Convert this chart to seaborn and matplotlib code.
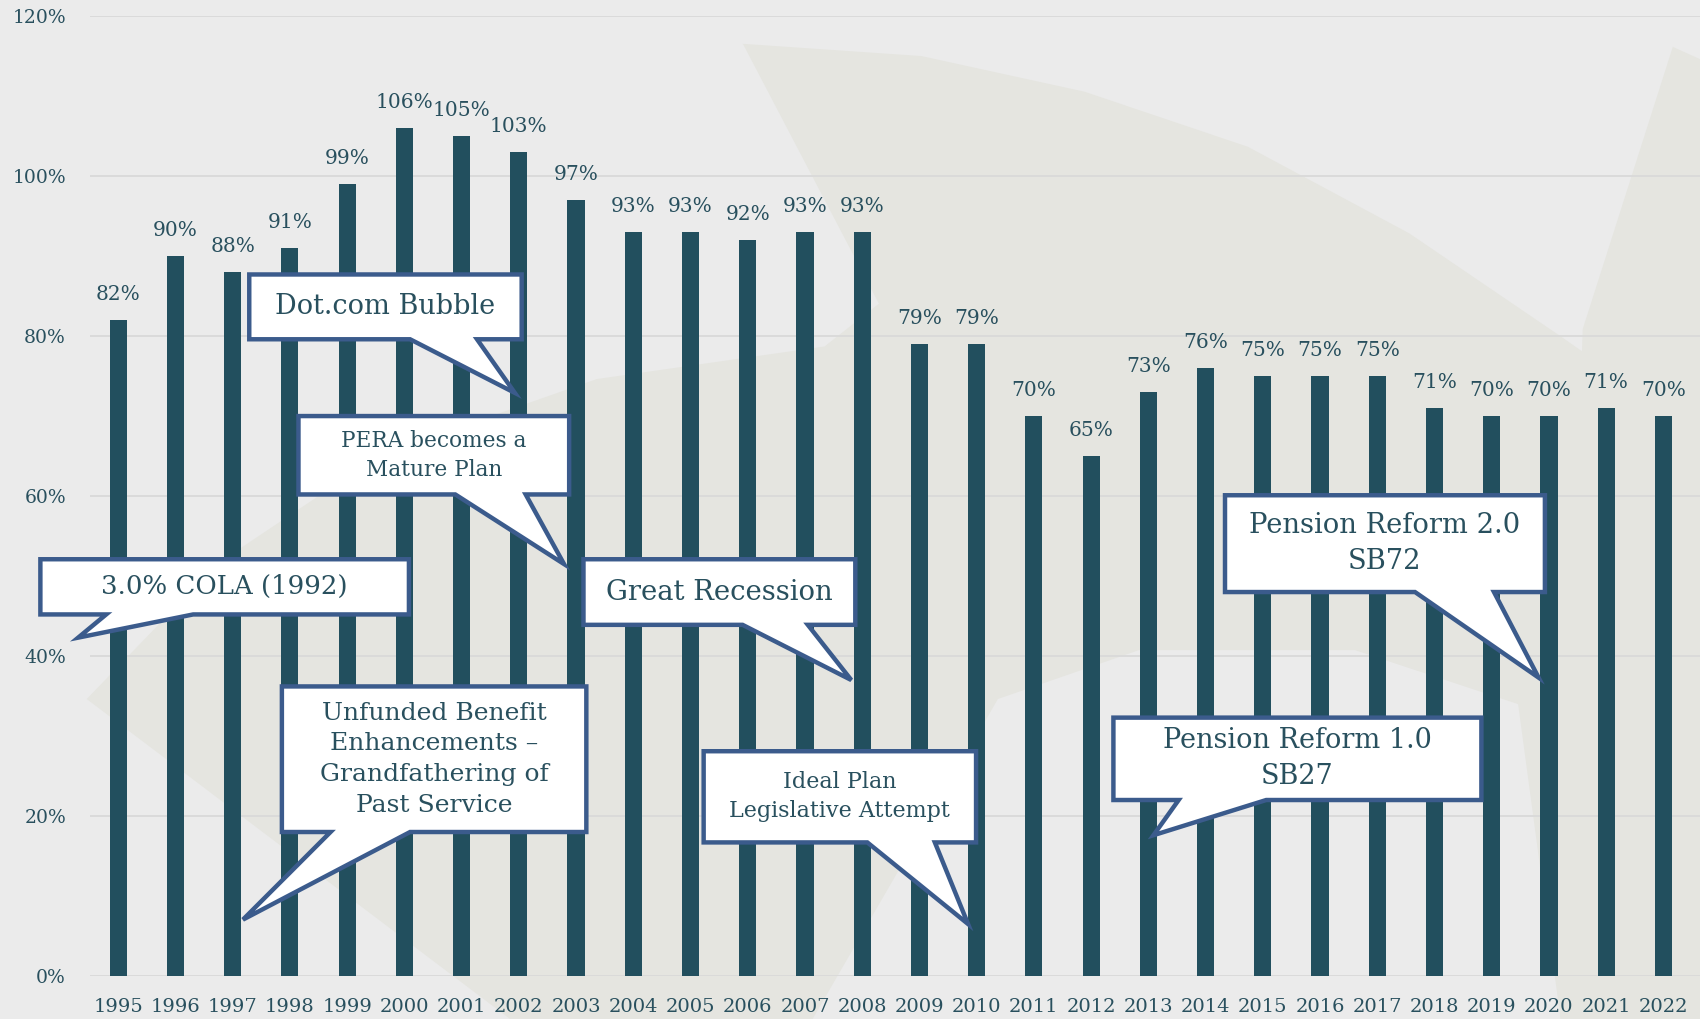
import numpy as np
import pandas as pd
import seaborn as sns
import matplotlib.pyplot as plt
from matplotlib.patches import Polygon

## ----------------------------- data -----------------------------
years = [str(y) for y in range(1995, 2023)]
funded = [82, 90, 88, 91, 99, 106, 105, 103, 97, 93, 93, 92, 93, 93,
          79, 79, 70, 65, 73, 76, 75, 75, 75, 71, 70, 70, 71, 70]
y_ticks = [0, 20, 40, 60, 80, 100, 120]

callout_text = ["Dot.com Bubble",
                "PERA becomes a\nMature Plan",
                "3.0% COLA (1992)",
                "Great Recession",
                "Unfunded Benefit\nEnhancements \u2013\nGrandfathering of\nPast Service",
                "Ideal Plan\nLegislative Attempt",
                "Pension Reform 1.0\nSB27",
                "Pension Reform 2.0\nSB72"]
# box (x0, x1, ybottom, ytop), tail base (xa, xb), tip (x, y) in data units
callout_box = [(2.29, 7.05, 79.6, 87.7),
               (3.15, 7.88, 60.2, 70.0),
               (-1.36, 5.08, 45.2, 52.1),
               (8.13, 12.88, 43.9, 52.1),
               (2.86, 8.18, 18.0, 36.2),
               (10.23, 14.99, 16.7, 28.1),
               (17.39, 23.82, 22.0, 32.3),
               (19.34, 24.93, 48.0, 60.1)]
callout_base = [(5.10, 6.27), (5.89, 7.12), (-0.21, 1.31), (10.91, 12.05),
                (3.71, 5.10), (13.09, 14.27), (18.53, 20.06), (22.66, 24.04)]
callout_tip = [(6.93, 72.9), (7.79, 51.5), (-0.70, 42.3), (12.81, 37.0),
               (2.18, 7.05), (14.85, 6.5), (18.09, 17.6), (24.82, 37.3)]
callout_size = [19.5, 15.6, 18.7, 19.8, 18, 16, 19.5, 19.7]

## faint background leaves (fractions of the figure, measured from top-left)
leaf_main = [(0.437, 0.043), (0.542, 0.055), (0.638, 0.090), (0.734, 0.144),
             (0.829, 0.229), (0.918, 0.330), (1.0, 0.426), (1.0, 1.0),
             (0.300, 1.0), (0.051, 0.686), (0.128, 0.553), (0.223, 0.447),
             (0.351, 0.372), (0.485, 0.340), (0.517, 0.298)]
leaf_gap = [(0.478, 1.0), (0.587, 0.686), (0.670, 0.638), (0.797, 0.638),
            (0.893, 0.691), (0.918, 1.0)]
leaf_right = [(0.984, 0.046), (1.0, 0.058), (1.0, 1.0), (0.918, 1.0),
              (0.931, 0.323)]

## ----------------------------- style -----------------------------
BG = "#ebebeb"
LEAF = "#e5e5e0"
BAR = "#224f5e"
TXT = "#29505e"
EDGE = "#3b5b8c"

sns.set_style("white")
plt.rcParams['font.family'] = ['DejaVu Serif']

fig = plt.figure(figsize=(17, 10.19), dpi=100, facecolor=BG)
for shape, col in [(leaf_main, LEAF), (leaf_gap, BG), (leaf_right, LEAF)]:
    fig.add_artist(Polygon([(x, 1 - y) for x, y in shape], closed=True,
                           facecolor=col, edgecolor="none",
                           transform=fig.transFigure, zorder=-5))

ax = fig.add_axes([0.0527, 0.0422, 0.9473, 0.942])
ax.set_facecolor("none")

sns.barplot(x=years, y=funded, color=BAR, width=0.3, saturation=1,
            linewidth=0, ax=ax, zorder=2)

ax.set_ylim(0, 120)
ax.set_xlim(-0.5, 27.64)
ax.set_yticks(y_ticks)
ax.set_yticklabels([f"{t}%" for t in y_ticks])
ax.yaxis.grid(True, color="#d9d9d9", linewidth=1.3, zorder=0)
ax.set_axisbelow(True)
for s in ax.spines.values():
    s.set_visible(False)
ax.tick_params(axis="y", length=0, pad=17, labelsize=13.5, labelcolor=TXT)
ax.tick_params(axis="x", length=0, pad=16, labelsize=14, labelcolor=TXT)
ax.set_xlabel("")
ax.set_ylabel("")

# value labels
for i, v in enumerate(funded):
    ax.text(i, v + 2.0, f"{v}%", ha="center", va="bottom", fontsize=14.5,
            color=TXT, zorder=3)

# callouts
for txt, box, base, tip, fs in zip(callout_text, callout_box, callout_base,
                                   callout_tip, callout_size):
    x0, x1, yb, yt = box
    xa, xb = base
    pts = [(x0, yt), (x1, yt), (x1, yb), (xb, yb), tip, (xa, yb), (x0, yb)]
    poly = Polygon(pts, closed=True, facecolor="white", edgecolor=EDGE,
                   linewidth=3.2, joinstyle="miter", zorder=5, clip_on=False)
    ax.add_patch(poly)
    ax.text((x0 + x1) / 2, (yb + yt) / 2, txt, ha="center", va="center",
            fontsize=fs, color=TXT, linespacing=1.42, zorder=6)

fig.savefig("out.png", dpi=100, facecolor=BG)
